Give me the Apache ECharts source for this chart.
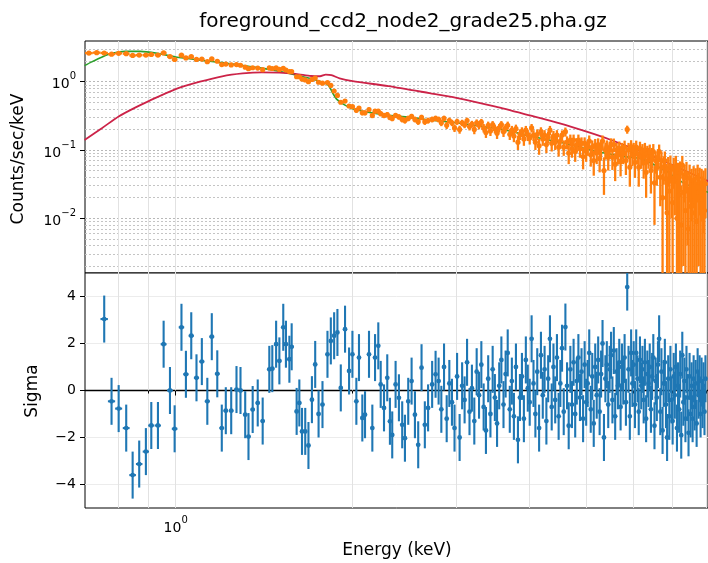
<!DOCTYPE html>
<html><head><meta charset="utf-8">
<script src="https://cdn.jsdelivr.net/npm/echarts@6/dist/echarts.min.js"></script>
<style>html,body{margin:0;padding:0;background:#fff}#c{width:708px;height:563px}</style>
</head><body><div id="c"></div>
<script>
// ---------------- data ----------------
const chartTitle = 'foreground_ccd2_node2_grade25.pha.gz';
const xMajorTicks = [1];
const xMinorTicks = [0.8, 0.9, 2, 3, 4, 5, 6, 7, 8];
const yMajorTicks = [0.01, 0.1, 1];
const yMinorTicks = [0.002,0.003,0.004,0.005,0.006,0.007,0.008,0.009,
  0.02,0.03,0.04,0.05,0.06,0.07,0.08,0.09,0.2,0.3,0.4,0.5,0.6,0.7,0.8,0.9,2,3];
const sigmaTicks = [-4, -2, 0, 2, 4];

// bin energies (keV) shared by the data points and the residuals
const binEnergy = [
 0.756,0.778,0.800,0.824,0.845,0.867,0.890,0.909,0.933,0.954,
 0.978,0.996,1.023,1.041,1.063,1.085,1.108,1.132,1.152,1.177,
 1.198,1.217,1.243,1.269,1.289,1.313,1.330,1.352,1.379,1.406,
 1.443,1.460,1.482,1.501,1.524,1.540,1.561,1.575,1.606,1.623,
 1.640,1.661,1.682,1.705,1.727,1.750,1.777,1.812,1.836,1.860,
 1.884,1.909,1.941,1.972,1.998,2.029,2.050,2.077,2.099,2.132,
 2.160,2.183,2.211,2.232,2.261,2.290,2.314,2.335,2.366,2.397,
 2.428,2.454,2.486,2.519,2.552,2.585,2.619,2.653,2.687,2.730,
 2.767,
 2.80,2.83,2.86,2.89,2.92,2.95,2.98,3.01,3.04,3.07,
 3.10,3.13,3.16,3.19,3.22,3.25,3.28,3.31,3.34,3.37,
 3.40,3.43,3.46,3.49,3.52,3.55,3.58,3.61,3.64,3.67,
 3.70,3.73,3.76,3.79,3.82,3.85,3.88,3.91,3.94,3.97,
 4.00,4.03,4.06,4.09,4.12,4.15,4.18,4.21,4.24,4.27,
 4.30,4.33,4.36,4.39,4.42,4.45,4.48,4.51,4.54,4.57,
 4.60,4.63,4.66,4.69,4.72,4.75,4.78,4.81,4.84,4.87,
 4.90,4.93,4.96,4.99,5.02,5.05,5.08,5.11,5.14,5.17,
 5.20,5.23,5.26,5.29,5.32,5.35,5.38,5.41,5.44,5.47,
 5.50,5.53,5.56,5.59,5.62,5.65,5.68,5.71,5.74,5.77,
 5.80,5.83,5.86,5.89,5.92,5.95,5.98,6.01,6.04,6.07,
 6.10,6.13,6.16,6.19,6.22,6.25,6.28,6.31,6.34,6.37,
 6.40,6.43,6.46,6.49,6.52,6.55,6.58,6.61,6.64,6.67,
 6.70,6.73,6.76,6.79,6.82,6.85,6.88,6.91,6.94,6.97,
 7.00,7.03,7.06,7.09,7.12,7.15,7.18,7.21,7.24,7.27,
 7.30,7.33,7.36,7.39,7.42,7.45,7.48,7.51,7.54,7.57,
 7.60,7.63,7.66,7.69,7.72,7.75,7.78,7.81,7.84,7.87,
 7.90,7.93,7.96
];
// half bin widths (keV) per energy band: [upper energy, half width]
const binHalfWidthBands = [[1.42, 0.011], [2.78, 0.012], [9, 0.016]];

// residuals (sigma)
const residSigma = [
 3.04,-0.46,-0.77,-1.6,-3.6,-3.13,-2.6,-1.49,-1.49,1.97,
 0.0,-1.63,2.69,0.69,2.33,0.54,1.23,-0.46,2.29,0.71,
 -1.6,-0.86,-0.86,0.04,0.0,-1.03,-1.96,-0.81,-0.53,-1.3,
 0.9,0.93,1.97,1.26,2.69,1.97,1.33,1.86,-0.89,-0.53,
 -1.74,-1.74,-2.34,-0.39,1.11,-1.0,-0.6,1.54,2.11,2.33,
 2.47,0.11,2.61,0.83,1.54,-0.46,1.4,-1.17,-1.03,1.54,
 -1.6,1.4,1.9,0.26,-0.74,0.54,-1.31,-1.89,0.26,-0.31,
 -1.46,-2.03,-0.46,0.4,-1.03,-2.31,0.97,-1.46,-0.74,0.26,
 0.69,
 0.4,-0.8,1.0,-1.2,0.3,-0.5,-1.6,0.6,-2.0,0.2,
 -0.4,1.2,-0.9,0.1,-1.3,0.8,-0.2,1.1,-0.7,-1.7,
 0.5,-1.0,0.9,-0.3,-1.4,0.2,1.3,-0.6,0.7,1.6,
 -0.8,0.4,-1.1,1.0,-2.1,-0.3,0.6,-1.2,1.3,0.1,
 -0.5,2.2,0.3,-1.0,0.8,-1.6,1.5,-0.2,0.9,-1.3,
 0.5,2.2,-0.7,1.0,-0.4,1.4,-1.1,0.3,1.8,-0.9,
 2.7,0.2,-1.5,0.9,-0.6,1.2,-1.0,0.4,1.4,-0.3,
 0.8,-1.2,1.1,-0.5,0.3,1.6,-0.8,0.6,-1.4,1.0,
 -0.2,1.3,-0.9,0.7,2.0,-2.0,0.5,1.1,-0.6,0.9,
 1.5,-0.4,1.7,-1.1,0.8,0.2,1.2,-0.7,1.0,0.4,
 1.4,-0.5,4.4,0.9,-1.1,1.6,0.3,1.1,-0.6,1.6,
 0.5,-0.9,1.3,0.2,0.9,-0.4,1.2,-1.2,0.7,0.3,
 1.0,-0.8,0.6,1.4,-1.5,0.4,-0.3,1.1,2.2,-0.9,
 0.8,-1.7,0.3,1.2,-0.6,-2.0,0.5,-1.1,0.9,-0.4,
 -1.3,0.6,-0.2,1.0,-1.6,0.2,-0.8,0.7,-1.9,1.5,
 -0.5,0.4,-1.2,0.9,-0.3,-1.8,0.6,-1.0,0.2,-1.2,
 0.5,-0.7,0.3,-1.4,0.8,-0.2,0.5,-1.0,0.4,-0.6,
 0.2,-0.9,0.5
];
const residErrorBar = 1; // residual error bars are 1 sigma

// measured spectrum (counts/sec/keV) at binEnergy
const spectrumRate = [
 2.63,2.53,2.60,2.57,2.42,2.45,2.45,2.50,2.45,2.64,
 2.33,2.11,2.44,2.23,2.32,2.12,2.14,1.96,2.15,1.99,
 1.78,1.81,1.76,1.78,1.74,1.63,1.55,1.60,1.58,1.50,
 1.59,1.56,1.59,1.51,1.57,1.48,1.41,1.41,1.18,1.18,
 1.09,1.06,1.0,1.08,1.13,0.98,0.95,0.97,0.88,0.73,
 0.63,0.50,0.52,0.44,0.43,0.38,0.41,0.35,0.35,0.39,
 0.32,0.37,0.37,0.34,0.32,0.33,0.30,0.29,0.32,0.305,
 0.28,0.27,0.29,0.31,0.28,0.26,0.30,0.26,0.27,0.28,
 0.29,
 0.28,0.25,0.29,0.23,0.27,0.25,0.21,0.26,0.20,0.25,
 0.235,0.27,0.22,0.24,0.20,0.25,0.23,0.255,0.21,0.18,
 0.23,0.19,0.235,0.205,0.175,0.21,0.235,0.185,0.21,0.23,
 0.17,0.195,0.16,0.205,0.13,0.17,0.185,0.145,0.195,0.165,
 0.15,0.21,0.165,0.13,0.17,0.115,0.185,0.145,0.165,0.12,
 0.155,0.195,0.125,0.16,0.13,0.165,0.11,0.135,0.165,0.11,
 0.185,0.13,0.09,0.14,0.105,0.14,0.095,0.12,0.14,0.105,
 0.125,0.08,0.125,0.095,0.11,0.135,0.085,0.11,0.07,0.117,
 0.09,0.12,0.075,0.107,0.135,0.05,0.10,0.11,0.078,0.105,
 0.12,0.078,0.12,0.062,0.10,0.088,0.106,0.068,0.10,0.089,
 0.11,0.07,0.20,0.10,0.056,0.112,0.085,0.10,0.066,0.11,
 0.088,0.056,0.105,0.08,0.095,0.065,0.10,0.047,0.088,0.08,
 0.093,0.05,0.08,0.095,0.033,0.07,0.055,0.078,0.095,0.04,
 0.07,0.02,0.056,0.07,0.038,0.012,0.054,0.025,0.058,0.035,
 0.017,0.052,0.036,0.057,0.01,0.04,0.022,0.046,0.008,0.06,
 0.024,0.039,0.013,0.045,0.026,0.007,0.039,0.015,0.031,0.012,
 0.036,0.018,0.032,0.009,0.039,0.024,0.033,0.013,0.031,0.019,
 0.028,0.013,0.032
];
// two extra low-energy spectrum bins without residuals
const leadEnergy = [0.712, 0.734];
const leadRate = [2.62, 2.66];
// absolute 1-sigma error of the spectrum, per energy band: [upper energy, error]
const spectrumErrBands = [[0.9,0.11],[1.2,0.09],[1.5,0.075],[1.8,0.055],[1.9,0.035],
  [2.3,0.028],[3.2,0.027],[4.5,0.03],[5.5,0.028],[6.5,0.027],[7.2,0.025],[9,0.022]];

// folded model (green)
const foldedE = [0.70,0.72,0.75,0.78,0.82,0.87,0.93,1.00,1.10,1.20,1.30,1.40,1.50,1.60,1.70,1.78,1.82,1.85,1.88,1.92,2.00,2.20,2.50,2.70,3.00,3.40,3.70,4.00,4.60,5.20,5.80,6.20,6.80,7.30,8.04];
const foldedV = [1.72,1.95,2.3,2.6,2.78,2.78,2.6,2.3,2.07,1.9,1.72,1.58,1.42,1.25,1.1,0.98,0.88,0.68,0.55,0.48,0.40,0.34,0.30,0.275,0.25,0.215,0.19,0.16,0.125,0.095,0.08,0.074,0.05,0.033,0.024];
// unfolded source model (red)
const sourceE = [0.70,0.75,0.80,0.85,0.90,1.00,1.10,1.20,1.30,1.40,1.50,1.60,1.70,1.76,1.80,1.84,1.90,2.00,2.30,2.70,3.00,3.50,4.00,4.50,5.00,5.50,6.00,6.50,7.00,7.50,8.04];
const sourceV = [0.14,0.21,0.31,0.41,0.52,0.78,1.0,1.2,1.32,1.37,1.36,1.3,1.21,1.2,1.27,1.25,1.12,1.02,0.86,0.68,0.58,0.43,0.32,0.245,0.185,0.14,0.105,0.08,0.06,0.046,0.035];

// ---------------- chart ----------------
const FONT = 'DejaVu Sans';
const XMIN = 0.7012, XMAX = 8.04, YMIN = 0.00158, YMAX = 3.94;

function bandLookup(bands, e) {
  for (const b of bands) if (e <= b[0]) return b[1];
  return bands[bands.length - 1][1];
}
const specE = leadEnergy.concat(binEnergy);
const specV = leadRate.concat(spectrumRate);
const specData = specE.map((e, i) => {
  const v = specV[i], er = bandLookup(spectrumErrBands, e), hw = bandLookup(binHalfWidthBands, e);
  return [e, v, Math.max(v - er, YMIN * 0.5), v + er, e - hw, e + hw];
});
const residData = binEnergy.map((e, i) => {
  const hw = bandLookup(binHalfWidthBands, e);
  return [e, residSigma[i], residSigma[i] - residErrorBar, residSigma[i] + residErrorBar, e - hw, e + hw];
});

function errRender(color, r, lw) {
  return function (params, api) {
    const x = api.value(0), y = api.value(1), lo = api.value(2), hi = api.value(3);
    const xl = api.value(4), xh = api.value(5);
    const p = api.coord([x, y]), pl = api.coord([x, lo]), ph = api.coord([x, hi]);
    const qa = api.coord([xl, y]), qb = api.coord([xh, y]);
    return { type: 'group', children: [
      { type: 'line', shape: { x1: p[0], y1: pl[1], x2: p[0], y2: ph[1] }, style: { stroke: color, lineWidth: lw } },
      { type: 'line', shape: { x1: qa[0], y1: p[1], x2: qb[0], y2: p[1] }, style: { stroke: color, lineWidth: lw } },
      { type: 'circle', shape: { cx: p[0], cy: p[1], r: r }, style: { fill: color } }
    ]};
  };
}
function pow10(v) {
  const e = Math.round(Math.log10(v));
  return '{b|10}{s|' + (e < 0 ? '\u2212' + (-e) : e) + '}';
}
const rich = {
  b: { fontSize: 14, fontFamily: FONT, color: '#000', lineHeight: 20, verticalAlign: 'bottom' },
  s: { fontSize: 10, fontFamily: FONT, color: '#000', lineHeight: 10, verticalAlign: 'top' }
};
const tickStyle = { color: '#000', width: 1 };
const gridV = { color: '#e2e2e2', width: 1 };

const option = {
  animation: false,
  backgroundColor: '#fff',
  title: { text: chartTitle, left: 398, textAlign: 'center', top: 7,
    textStyle: { fontFamily: FONT, fontSize: 20, fontWeight: 'normal', color: '#000' } },
  grid: [
    { left: 85, top: 41, height: 232, right: -3, show: true, borderColor: '#000', borderWidth: 1, backgroundColor: '#fff' },
    { left: 85, top: 273, height: 235, right: -3, show: true, borderColor: '#000', borderWidth: 1, backgroundColor: '#fff' }
  ],
  xAxis: [
    { gridIndex: 0, type: 'log', min: XMIN, max: XMAX, axisLine: { show: false },
      axisTick: { show: false, customValues: xMajorTicks.concat(xMinorTicks) },
      axisLabel: { show: false }, splitLine: { show: true, lineStyle: gridV } },
    { gridIndex: 1, type: 'log', min: XMIN, max: XMAX, position: 'bottom', axisLine: { show: false },
      axisTick: { show: true, customValues: xMajorTicks, length: 5, lineStyle: tickStyle },
      axisLabel: { customValues: xMajorTicks, formatter: pow10, rich: rich, margin: 7 },
      splitLine: { show: true, lineStyle: gridV } },
    { gridIndex: 1, type: 'log', min: XMIN, max: XMAX, position: 'bottom', axisLine: { show: false },
      axisTick: { show: true, customValues: xMinorTicks, length: 3, lineStyle: tickStyle },
      axisLabel: { show: false }, splitLine: { show: true, lineStyle: gridV } }
  ],
  yAxis: [
    { gridIndex: 0, type: 'log', min: YMIN, max: YMAX, axisLine: { show: false },
      axisTick: { show: true, customValues: yMajorTicks, length: 5, lineStyle: tickStyle },
      axisLabel: { customValues: yMajorTicks, formatter: pow10, rich: rich, margin: 9 },
      splitLine: { show: true, lineStyle: { color: '#b8b8b8', width: 1, type: [2, 2] } } },
    { gridIndex: 0, type: 'log', min: YMIN, max: YMAX, axisLine: { show: false },
      axisTick: { show: true, customValues: yMinorTicks, length: 3, lineStyle: tickStyle },
      axisLabel: { show: false },
      splitLine: { show: true, lineStyle: { color: '#c4c4c4', width: 1, type: [2, 2] } } },
    { gridIndex: 1, type: 'value', min: -5, max: 5, axisLine: { show: false },
      axisTick: { show: true, customValues: sigmaTicks, length: 5, lineStyle: tickStyle },
      axisLabel: { customValues: sigmaTicks, margin: 9, fontFamily: FONT, fontSize: 14, color: '#000',
        formatter: v => (v < 0 ? '\u2212' + (-v) : '' + v) },
      splitLine: { show: true, lineStyle: { color: '#ececec', width: 1 } } },
    { gridIndex: 1, type: 'value', min: -5, max: 5, axisLine: { show: false },
      axisTick: { show: false, customValues: [0] }, axisLabel: { show: false },
      splitLine: { show: true, lineStyle: { color: '#000', width: 1.4 } } }
  ],
  graphic: [
    { type: 'text', x: 19, y: 159, rotation: Math.PI / 2,
      style: { text: 'Counts/sec/keV', font: '17px "DejaVu Sans"', fill: '#000', align: 'center', verticalAlign: 'middle', textAlign: 'center', textVerticalAlign: 'middle' } },
    { type: 'text', x: 33, y: 391, rotation: Math.PI / 2,
      style: { text: 'Sigma', font: '17px "DejaVu Sans"', fill: '#000', align: 'center', verticalAlign: 'middle', textAlign: 'center', textVerticalAlign: 'middle' } },
    { type: 'text', x: 397, y: 551,
      style: { text: 'Energy (keV)', font: '17px "DejaVu Sans"', fill: '#000', align: 'center', verticalAlign: 'middle', textAlign: 'center', textVerticalAlign: 'middle' } }
  ],
  series: [
    { type: 'line', xAxisIndex: 0, yAxisIndex: 0, data: foldedE.map((e, i) => [e, foldedV[i]]),
      showSymbol: false, smooth: 0.25, silent: true, z: 2, clip: true,
      lineStyle: { color: '#2ca02c', width: 1.6 } },
    { type: 'line', xAxisIndex: 0, yAxisIndex: 0, data: sourceE.map((e, i) => [e, sourceV[i]]),
      showSymbol: false, smooth: 0.25, silent: true, z: 3, clip: true,
      lineStyle: { color: '#cc2348', width: 1.8 } },
    { type: 'custom', xAxisIndex: 0, yAxisIndex: 0, data: specData, z: 4, clip: true, silent: true,
      renderItem: errRender('#ff7f0e', 2.6, 2.3) },
    { type: 'custom', xAxisIndex: 1, yAxisIndex: 2, data: residData, z: 4, clip: true, silent: true,
      renderItem: errRender('#1f77b4', 2.4, 2.1) }
  ]
};
const chart = echarts.init(document.getElementById('c'), null, { renderer: 'canvas' });
chart.setOption(option);
</script></body></html>
